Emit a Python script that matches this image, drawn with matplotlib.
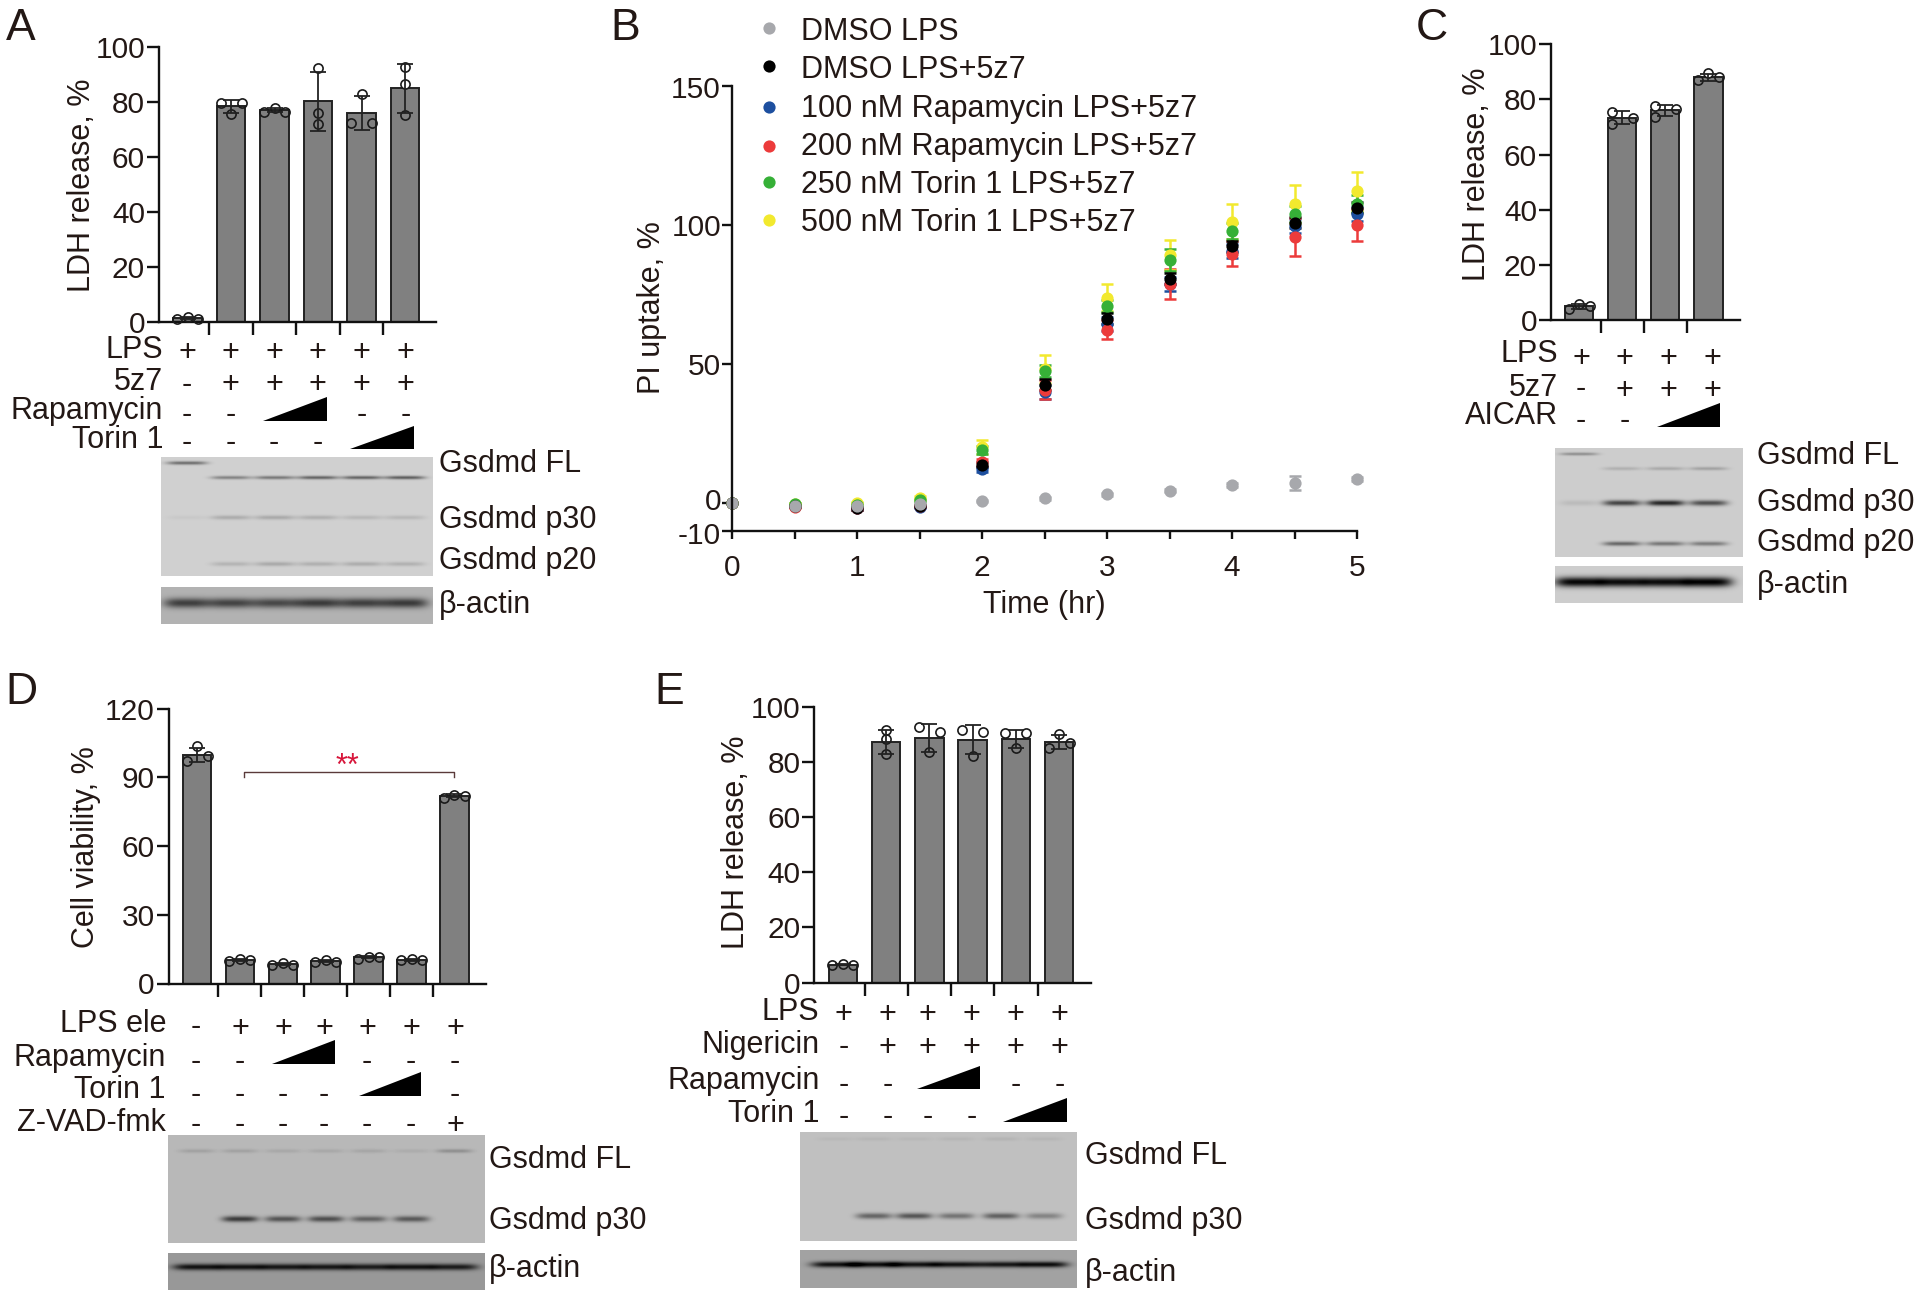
import numpy as np
import matplotlib
matplotlib.use('Agg')
import matplotlib.pyplot as plt
from matplotlib.transforms import ScaledTranslation

W, H = 1920, 1296
plt.rcParams['font.family'] = ['Liberation Sans', 'DejaVu Sans']
plt.rcParams['axes.unicode_minus'] = False
FS = 22
TICK_FS = 21.5
LETTER_FS = 32
INK = '#231815'

# panel A
a_means = [1.5, 78.5, 77, 80.3, 76, 85]
a_errs = [0.3, 2.4, 0.7, 10.7, 6.2, 8.8]
a_points = [[1.4, 1.8, 1.4], [79.5, 79.5, 75.5], [76.3, 77.8, 76.3],
            [92.3, 76.1, 72.1], [83, 72.3, 72.3], [92.6, 86.7, 75.4]]
a_sides = [[-1, 0, 1], [-1, 1, 0], [-1, 0, 1], [0, 0, 0], [0, -1, 1], [0, 0, 0]]

# panel B
times = [0, 0.5, 1, 1.5, 2, 2.5, 3, 3.5, 4, 4.5, 5]
b_names = ['DMSO LPS', 'DMSO LPS+5z7', '100 nM Rapamycin LPS+5z7',
           '200 nM Rapamycin LPS+5z7', '250 nM Torin 1 LPS+5z7', '500 nM Torin 1 LPS+5z7']
b_gray = [0, -1, -1.2, -0.4, 0.6, 1.6, 3.1, 4.4, 6.5, 7.2, 8.7]
b_black = [0, -1.2, -2, -1, 13.8, 42.6, 66.4, 80.7, 92.5, 100.9, 106.3]
b_blue = [0, -1.2, -2, -1.6, 12.1, 40, 64.4, 79, 90.9, 99.7, 104.1]
b_red = [0, -1.3, -2, -1, 14.6, 40.8, 62.4, 78.8, 89.8, 95.9, 100]
b_green = [0, -0.5, -0.6, 1, 19.1, 47.4, 71, 87.5, 97.9, 104.1, 107.8]
b_yellow = [0, -0.4, -0.2, 1.8, 20.2, 48.2, 73.9, 89.4, 101.2, 107.8, 112.2]
b_gray_err = [0, 0.3, 0.3, 0.3, 0.4, 0.5, 0.6, 0.6, 0.8, 2.5, 0.8]
b_black_err = [0, 0.4, 0.4, 0.4, 1, 2, 2, 2, 2, 2, 2]
b_blue_err = [0, 0.4, 0.4, 0.4, 1, 2.5, 2.5, 2.5, 2.5, 2.5, 2.5]
b_red_err = [0, 0.4, 0.4, 0.4, 1.2, 3.4, 3.5, 5.3, 4.4, 6.8, 5.7]
b_green_err = [0, 0.4, 0.4, 0.5, 1.5, 2.2, 2.2, 3.8, 3, 3, 3]
b_yellow_err = [0, 0.4, 0.4, 0.6, 2.5, 5, 4.9, 5.4, 6.3, 6.9, 7.1]

# panel C
c_means = [5.2, 73.4, 76, 87.9]
c_errs = [0.9, 2.4, 2, 1.2]
c_points = [[4.1, 5.9, 5.2], [75.3, 70.9, 73.4], [77.5, 73.7, 76.5], [86.9, 89.4, 87.9]]
c_sides = [[-1, 0, 1], [-1, -1, 1], [-1, -1, 1], [-1, 0, 1]]

# panel D
d_means = [99.8, 10.2, 8.5, 9.8, 11.5, 10.3, 82]
d_errs = [3, 0.4, 0.4, 0.4, 0.5, 0.4, 0.5]
d_points = [[97, 103.5, 99.1], [9.9, 10.6, 10.3], [8.1, 8.8, 8], [9.4, 10.1, 9.6],
            [10.6, 11.5, 11.5], [10.3, 10.6, 10.3], [81, 82.1, 81.8]]
d_sides = [[-1, 0, 1]] * 7

# panel E
e_means = [6.5, 87.2, 88.7, 88.1, 88.4, 87.1]
e_errs = [0.2, 4.3, 5, 5.1, 3.3, 2.6]
e_points = [[6.3, 6.6, 6.3], [91.5, 88.3, 82.8], [92.7, 90.9, 83.4],
            [91.5, 91, 82.3], [90.6, 90.5, 84.9], [90.2, 85, 86.7]]
e_sides = [[-1, 0, 1], [0, 0, 0], [-1, 1, 0], [-1, 1, 0], [-1, 1, 0], [0, -1, 1]]

# band strength per lane on the blots
a_fl = [95, 0, 0, 0, 0, 0]
a_top = [0, 75, 85, 105, 105, 110]
a_p30 = [8, 35, 38, 32, 24, 24]
a_p20 = [0, 28, 38, 32, 35, 30]
a_actin = [115, 110, 105, 120, 115, 120]
c_fl = [60, 0, 0, 0]
c_top = [0, 28, 35, 42]
c_p30 = [18, 135, 165, 125]
c_p20 = [0, 100, 85, 80]
c_actin = [200, 195, 195, 205]
d_fl = [22, 22, 16, 16, 18, 12, 40]
d_p30 = [0, 125, 100, 105, 85, 95, 0]
d_actin = [135, 135, 130, 130, 125, 135, 125]
e_fl = [8, 10, 8, 10, 12, 10]
e_p30 = [0, 90, 105, 75, 95, 60]
e_actin = [145, 150, 145, 145, 140, 150]

fig = plt.figure(figsize=(W / 100, H / 100), dpi=100, facecolor='white')
page = fig.add_axes([0, 0, 1, 1], zorder=0)
page.set_xlim(0, W)
page.set_ylim(H, 0)
page.axis('off')


def label(x, y, s, ha='left', **kw):
    kw.setdefault('fontsize', FS)
    kw.setdefault('color', INK)
    va = kw.pop('va', 'center')
    if va == 'center' and 'rotation' not in kw:
        y = y + 2.5
    page.text(x, y, s, ha=ha, va=va, **kw)


def make_axes(x0, ytop, x1, ybot, xlim, ylim):
    ax = fig.add_axes([x0 / W, 1 - ybot / H, (x1 - x0) / W, (ybot - ytop) / H], zorder=2)
    ax.patch.set_alpha(0)
    ax.set_xlim(*xlim)
    ax.set_ylim(*ylim)
    ax.spines[['top', 'right']].set_visible(False)
    ax.spines[['left', 'bottom']].set_linewidth(1.7)
    ax.spines[['left', 'bottom']].set_color('#111111')
    return ax


def bar_panel(x0, ytop, x1, ybot, first, step, means, errs, points, sides, ymax, yticks, tick_len):
    xlim = ((x0 - first) / step, (x1 - first) / step)
    ax = make_axes(x0, ytop, x1, ybot, xlim, (0, ymax))
    n = len(means)
    pos = np.arange(n)
    ax.bar(pos, means, width=28.5 / step, color='#808080', edgecolor='#222222', linewidth=1.4)
    for i in pos:
        ax.plot(i + np.array(sides[i]) * 10.5 / step, points[i], 'o', ms=6.6, mfc='none',
                mec='#1a1a1a', mew=1.2, clip_on=False, zorder=4)
        # white inside the circles that stick out above the bar
        above = [j for j, v in enumerate(points[i]) if v > means[i] + 1.2]
        ax.plot(i + np.array(sides[i])[above] * 10.5 / step, np.array(points[i])[above], 'o', ms=6,
                mfc='white', mec='none', clip_on=False, zorder=3)
    ax.errorbar(pos, means, yerr=errs, fmt='none', ecolor='#222222', elinewidth=1.3,
                capsize=5.5, capthick=1.3, zorder=5)
    ax.set_xticks(pos[:-1] + 0.5)
    ax.set_xticklabels([])
    ax.tick_params(axis='x', length=tick_len * 0.72, width=1.7, color='#111111')
    ax.set_yticks(yticks)
    ax.tick_params(axis='y', length=9, width=1.7, color='#111111', labelsize=TICK_FS, labelcolor=INK, pad=1)
    return ax


def sign_row(name, xlab, ylab, ysign, xs, signs):
    label(xlab, ylab, name, ha='right')
    for x, s in zip(xs, signs):
        if s == '+':
            label(x, ysign + 1, s, ha='center')
        elif s == '-':
            label(x, ysign, s, ha='center')


def wedge(x0, x1, ybot, ytop):
    page.fill([x0, x1, x1], [ybot, ybot, ytop], color='black', lw=0)


def blot(x0, x1, y0, y1, bg, rows, lanes, half_w):
    xx, yy = np.meshgrid(np.arange(x0, x1) + 0.5, np.arange(y0, y1) + 0.5)
    img = np.full(xx.shape, float(bg))
    for y, half_h, strengths in rows:
        for cx, s in zip(lanes, strengths):
            img -= s * np.exp(-((xx - cx) / half_w) ** 4) * np.exp(-((yy - y) / half_h) ** 2)
    page.imshow(img, extent=(x0, x1, y1, y0), cmap='gray', vmin=0, vmax=255,
                aspect='auto', interpolation='bilinear', zorder=1)
    page.set_xlim(0, W)
    page.set_ylim(H, 0)


# A
bar_panel(159, 47, 436, 322.4, 187.5, 43.5, a_means, a_errs, a_points, a_sides, 100,
          [0, 20, 40, 60, 80, 100], 13)
label(6, 39.5, 'A', va='baseline', fontsize=LETTER_FS)
label(82, 185, 'LDH release, %', ha='center', rotation=90, va='center')
a_x = [187, 230.5, 274, 317.5, 361.5, 405.5]
sign_row('LPS', 163, 348, 349, a_x, '++++++')
sign_row('5z7', 163, 380, 382, a_x, '-+++++')
sign_row('Rapamycin', 163, 408, 412, a_x, '--  --')
sign_row('Torin 1', 163, 438, 441, a_x, '----  ')
wedge(263, 326.5, 420.5, 397)
wedge(350, 413.5, 449, 425.5)
a_lanes = [187, 231, 275, 318, 362, 405]
blot(161, 433, 457, 576, 208, [(463, 1.8, a_fl), (477.6, 1.8, a_top), (517.5, 2.2, a_p30),
                               (564, 2.2, a_p20)], a_lanes, 20)
blot(161, 433, 587, 624, 178, [(603, 5, a_actin)], a_lanes, 23)
label(439, 461, 'Gsdmd FL')
label(439, 517.5, 'Gsdmd p30')
label(439, 558, 'Gsdmd p20')
label(439, 602, 'β-actin')

# B
ax = make_axes(732, 86.5, 1357, 530.7, (0, 5), (-10, 150))
b_series = [(b_blue, b_blue_err, '#1d4f9f'), (b_red, b_red_err, '#ec3b3b'),
            (b_yellow, b_yellow_err, '#f2e92e'), (b_green, b_green_err, '#36b037'),
            (b_black, b_black_err, '#000000'), (b_gray, b_gray_err, '#a7a8ac')]
for vals, errs, col in b_series:
    ax.errorbar(times, vals, yerr=errs, fmt='o', ms=8.8, color=col, mec='none', elinewidth=1.8,
                capsize=4, capthick=1.8, clip_on=False)
ax.set_xticks(times)
ax.set_xticklabels(['0', '', '1', '', '2', '', '3', '', '4', '', '5'])
ax.set_yticks([-10, 0, 50, 100, 150])
ax.tick_params(axis='x', length=6, width=1.7, color='#111111', labelsize=TICK_FS, labelcolor=INK, pad=11)
ax.tick_params(axis='y', length=7, width=1.7, color='#111111', labelsize=TICK_FS, labelcolor=INK, pad=1)
# the -10 and 0 labels sit a little apart from their ticks in the reference
ylabs = ax.get_yticklabels()
ylabs[0].set_transform(ylabs[0].get_transform() + ScaledTranslation(0, -2 / 100, fig.dpi_scale_trans))
ylabs[1].set_transform(ylabs[1].get_transform() + ScaledTranslation(0, 4 / 100, fig.dpi_scale_trans))
label(610, 39.5, 'B', va='baseline', fontsize=LETTER_FS)
label(1044, 602, 'Time (hr)', ha='center')
label(652, 308, 'PI uptake, %', ha='center', rotation=90, va='center')
b_colors = ['#a7a8ac', '#000000', '#1d4f9f', '#ec3b3b', '#36b037', '#f2e92e']
b_rows = [29, 67, 106, 144, 182.5, 220.5]
b_dots = [28, 66, 107, 146, 182, 220]
for name, col, y, yd in zip(b_names, b_colors, b_rows, b_dots):
    page.plot([769], [yd], 'o', ms=8.8, color=col, mec='none')
    label(801, y, name)

# C
bar_panel(1551, 44, 1740, 320.4, 1579, 43.1, c_means, c_errs, c_points, c_sides, 100,
          [0, 20, 40, 60, 80, 100], 13)
label(1416, 39.5, 'C', va='baseline', fontsize=LETTER_FS)
label(1477, 174.5, 'LDH release, %', ha='center', rotation=90, va='center')
c_x = [1581, 1624.5, 1668, 1712]
sign_row('LPS', 1558, 352, 355, c_x, '++++')
sign_row('5z7', 1558, 385, 387, c_x, '-+++')
sign_row('AICAR', 1558, 413, 418, c_x, '--  ')
wedge(1657, 1720, 426.5, 403)
c_lanes = [1579, 1622, 1665.5, 1708.5]
blot(1555, 1743, 448, 557, 205, [(454, 1.6, c_fl), (468.6, 1.8, c_top), (503, 2.8, c_p30),
                                 (543.7, 2.2, c_p20)], c_lanes, 19)
blot(1555, 1743, 566, 603, 205, [(582, 5, c_actin)], c_lanes, 24)
label(1757, 454, 'Gsdmd FL')
label(1757, 501, 'Gsdmd p30')
label(1757, 540, 'Gsdmd p20')
label(1757, 583, 'β-actin')

# D
ax = bar_panel(168.6, 708.5, 485.7, 983.5, 197, 42.9, d_means, d_errs, d_points, d_sides, 120,
               [0, 30, 60, 90, 120], 13)
label(5, 704.5, 'D', va='baseline', fontsize=LETTER_FS)
label(86, 847, 'Cell viability, %', ha='center', rotation=90, va='center')
page.plot([243.7, 243.7, 454.3, 454.3], [777, 772.4, 772.4, 777], color='#5a3a3a', lw=1)
label(347.8, 764, '**', ha='center', color='#d7153a', fontsize=22)
d_x = [196, 240, 283, 324, 367, 411, 455]
sign_row('LPS ele', 166, 1022, 1025, d_x, '-++++++')
sign_row('Rapamycin', 166, 1055.5, 1059.5, d_x, '--  ---')
sign_row('Torin 1', 166, 1088, 1092, d_x, '----  -')
sign_row('Z-VAD-fmk', 166, 1120.5, 1122.5, d_x, '------+')
wedge(271.5, 334.7, 1063.5, 1040)
wedge(358.5, 421, 1096, 1072)
d_lanes = [197, 240, 283, 326, 368.6, 411.4, 454.3]
blot(168, 485, 1135, 1243, 184, [(1151, 2, d_fl), (1219, 3, d_p30)], d_lanes, 18)
blot(168, 485, 1253, 1290, 152, [(1267, 3.2, d_actin)], d_lanes, 24)
label(489, 1158, 'Gsdmd FL')
label(489, 1218.5, 'Gsdmd p30')
label(489, 1267, 'β-actin')

# E
bar_panel(814.3, 706.7, 1091, 982.5, 842.9, 43.25, e_means, e_errs, e_points, e_sides, 100,
          [0, 20, 40, 60, 80, 100], 13)
label(654, 704.5, 'E', va='baseline', fontsize=LETTER_FS)
label(735.5, 842.5, 'LDH release, %', ha='center', rotation=90, va='center')
e_x = [843.7, 887.3, 927.3, 971.4, 1015.5, 1059.6]
sign_row('LPS', 819.5, 1009, 1012, e_x, '++++++')
sign_row('Nigericin', 819.5, 1042.5, 1044.5, e_x, '-+++++')
sign_row('Rapamycin', 819.5, 1078, 1082.5, e_x, '--  --')
sign_row('Torin 1', 819.5, 1112, 1115, e_x, '----  ')
wedge(916.5, 979.6, 1089, 1065.7)
wedge(1003.3, 1066.5, 1121.7, 1098)
e_lanes = [835, 874, 914.3, 956.3, 1001, 1044]
blot(800, 1077, 1132, 1241, 192, [(1139, 2, e_fl), (1216, 3, e_p30)], e_lanes, 18)
blot(800, 1077, 1250, 1288, 162, [(1264.5, 3, e_actin)], e_lanes, 24)
label(1085, 1153, 'Gsdmd FL')
label(1085, 1219, 'Gsdmd p30')
label(1085, 1270.5, 'β-actin')

fig.savefig('out.png', dpi=100)
